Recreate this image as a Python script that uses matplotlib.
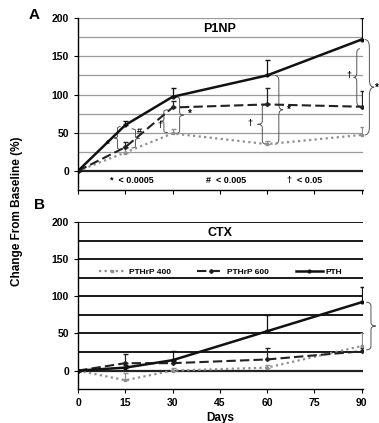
import matplotlib
matplotlib.use("Agg")
import matplotlib.pyplot as plt
from matplotlib.path import Path
from matplotlib.patches import PathPatch
from matplotlib.lines import Line2D

plt.rcParams['font.family'] = ['Liberation Sans', 'DejaVu Sans']
plt.rcParams['font.weight'] = 'bold'
plt.rcParams['axes.labelweight'] = 'bold'

days = [0, 15, 30, 60, 90]
series_names = ['PTHrP 400', 'PTHrP 600', 'PTH']

# P1NP change from baseline (%)
p1np_400 = [0, 24, 49, 35, 47]
p1np_600 = [0, 31, 83, 87, 84]
p1np_pth = [0, 60, 97, 125, 172]
p1np_400_err = [0, 6, 6, 4, 11]
p1np_600_err = [0, 7, 8, 21, 21]
p1np_pth_err = [0, 5, 12, 20, 28]

# CTX change from baseline (%)
ctx_400 = [0, -13, 0, 4, 33]
ctx_600 = [0, 10, 10, 15, 26]
ctx_pth = [0, 4, 14, 53, 92]
ctx_400_err = [0, 10, 3, 3, 17]
ctx_600_err = [0, 12, 3, 16, 4]
ctx_pth_err = [0, 4, 13, 22, 20]

xticks = [0, 15, 30, 45, 60, 75, 90]
yticks = [0, 50, 100, 150, 200]

styles = [
    dict(color='#8f8f8f', ls=(0, (1, 1.5)), lw=1.6, marker='s', ms=2.0),
    dict(color='#222222', ls=(0, (4.5, 2)), lw=1.5, marker='D', ms=2.0),
    dict(color='#111111', ls='-', lw=1.8, marker='o', ms=2.0),
]


def brace(ax, x, y0, y1, w, clip=True, lw=0.7, color='#555555'):
    """Vertical curly brace between y0 (bottom) and y1 (top); tip points toward x + w."""
    ym = (y0 + y1) / 2
    h = abs(y1 - y0) * 0.08
    xm = x + w * 0.5
    verts = [(x, y1), (xm, y1), (xm, y1 - h),
             (xm, ym + h),
             (xm, ym), (x + w, ym),
             (xm, ym), (xm, ym - h),
             (xm, y0 + h),
             (xm, y0), (x, y0)]
    codes = [Path.MOVETO, Path.CURVE3, Path.CURVE3,
             Path.LINETO,
             Path.CURVE3, Path.CURVE3,
             Path.CURVE3, Path.CURVE3,
             Path.LINETO,
             Path.CURVE3, Path.CURVE3]
    p = PathPatch(Path(verts, codes), fill=False, lw=lw, ec=color, clip_on=clip)
    ax.add_patch(p)


def draw(ax, vals, errs, grid_color, grid_lw):
    ax.set_xlim(0, 90.5)
    ax.set_ylim(-25, 200)
    for g in range(0, 201, 25):
        ax.axhline(g, color=grid_color if g != 0 else '#222222', lw=grid_lw if g != 0 else 1.6, zorder=0)
    for v, e, st, name in zip(vals, errs, styles, series_names):
        ax.errorbar(days, v, yerr=[[0] * len(e), e], capsize=1.8, elinewidth=0.9,
                    ecolor=st['color'], mfc=st['color'], mec=st['color'], **st)
    for s in ['top', 'right']:
        ax.spines[s].set_visible(False)
    ax.spines['left'].set_linewidth(1.0)
    ax.spines['bottom'].set_linewidth(1.0)
    ax.set_yticks(yticks)
    ax.set_xticks(xticks)
    ax.tick_params(labelsize=7.5, length=3, width=0.8)


fig = plt.figure(figsize=(3.79, 4.23), dpi=100)
axA = fig.add_axes([0.206, 0.551, 0.752, 0.406])
axB = fig.add_axes([0.206, 0.080, 0.752, 0.395])

draw(axA, [p1np_400, p1np_600, p1np_pth], [p1np_400_err, p1np_600_err, p1np_pth_err], '#9a9a9a', 0.9)
axA.spines['bottom'].set_linestyle((0, (1, 1)))
axA.set_xticklabels([])
axA.text(45, 186, 'P1NP', ha='center', va='center', fontsize=9)
axA.text(17, -12, '*  < 0.0005', ha='center', va='center', fontsize=6.5)
axA.text(47, -12, '#  < 0.005', ha='center', va='center', fontsize=6.5)
axA.text(72, -12, '\u2020  < 0.05', ha='center', va='center', fontsize=6.5)

# significance marks, P1NP
axA.text(9.5, 34, '*', fontsize=7, ha='center', va='center')
brace(axA, 13.5, 28, 58, -2.0)
axA.text(19.5, 52, '#', fontsize=6.5, ha='center', va='center')
brace(axA, 17, 30, 55, 2.5)
axA.text(26, 60, '\u2020', fontsize=6.5, ha='center', va='center')
brace(axA, 28.5, 50, 80, -2.5)
brace(axA, 31, 49, 97, 2.5)
axA.text(35.5, 75, '*', fontsize=7, ha='center', va='center')
brace(axA, 62.5, 35, 125, 2.5)
axA.text(67, 80, '*', fontsize=7, ha='center', va='center')
brace(axA, 60, 35, 87, -3.0)
axA.text(54.5, 62, '\u2020', fontsize=6.5, ha='center', va='center')
brace(axA, 89.5, 85, 160, -2.0)
axA.text(86, 125, '\u2020', fontsize=6.5, ha='center', va='center')
brace(axA, 91, 47, 172, 3.0, clip=False)
axA.text(94.8, 109, '*', fontsize=7, ha='center', va='center', clip_on=False)

draw(axB, [ctx_400, ctx_600, ctx_pth], [ctx_400_err, ctx_600_err, ctx_pth_err], '#1a1a1a', 1.4)
axB.set_xticklabels([str(t) for t in xticks])
axB.text(45, 185, 'CTX', ha='center', va='center', fontsize=9)
axB.set_xlabel('Days', fontsize=8.5, labelpad=3, fontweight='bold')
brace(axB, 91.5, 28, 92, 3.0, clip=False)

handles = [Line2D([], [], mfc=st['color'], mec=st['color'], **st) for st in styles]
leg = axB.legend(handles, series_names, loc='upper center', bbox_to_anchor=(0.5, 0.77), ncol=3,
                 frameon=False, fontsize=6, handlelength=3.2, columnspacing=3.2, handletextpad=0.4)
for t in leg.get_texts():
    t.set_fontweight('bold')

fig.text(0.045, 0.5, 'Change From Baseline (%)', rotation=90, ha='center', va='center',
         fontsize=8.5, fontweight='bold')
fig.text(0.09, 0.965, 'A', fontsize=11, ha='center', va='center', fontweight='bold')
fig.text(0.105, 0.515, 'B', fontsize=11, ha='center', va='center', fontweight='bold')

fig.savefig('out.png', dpi=100)
